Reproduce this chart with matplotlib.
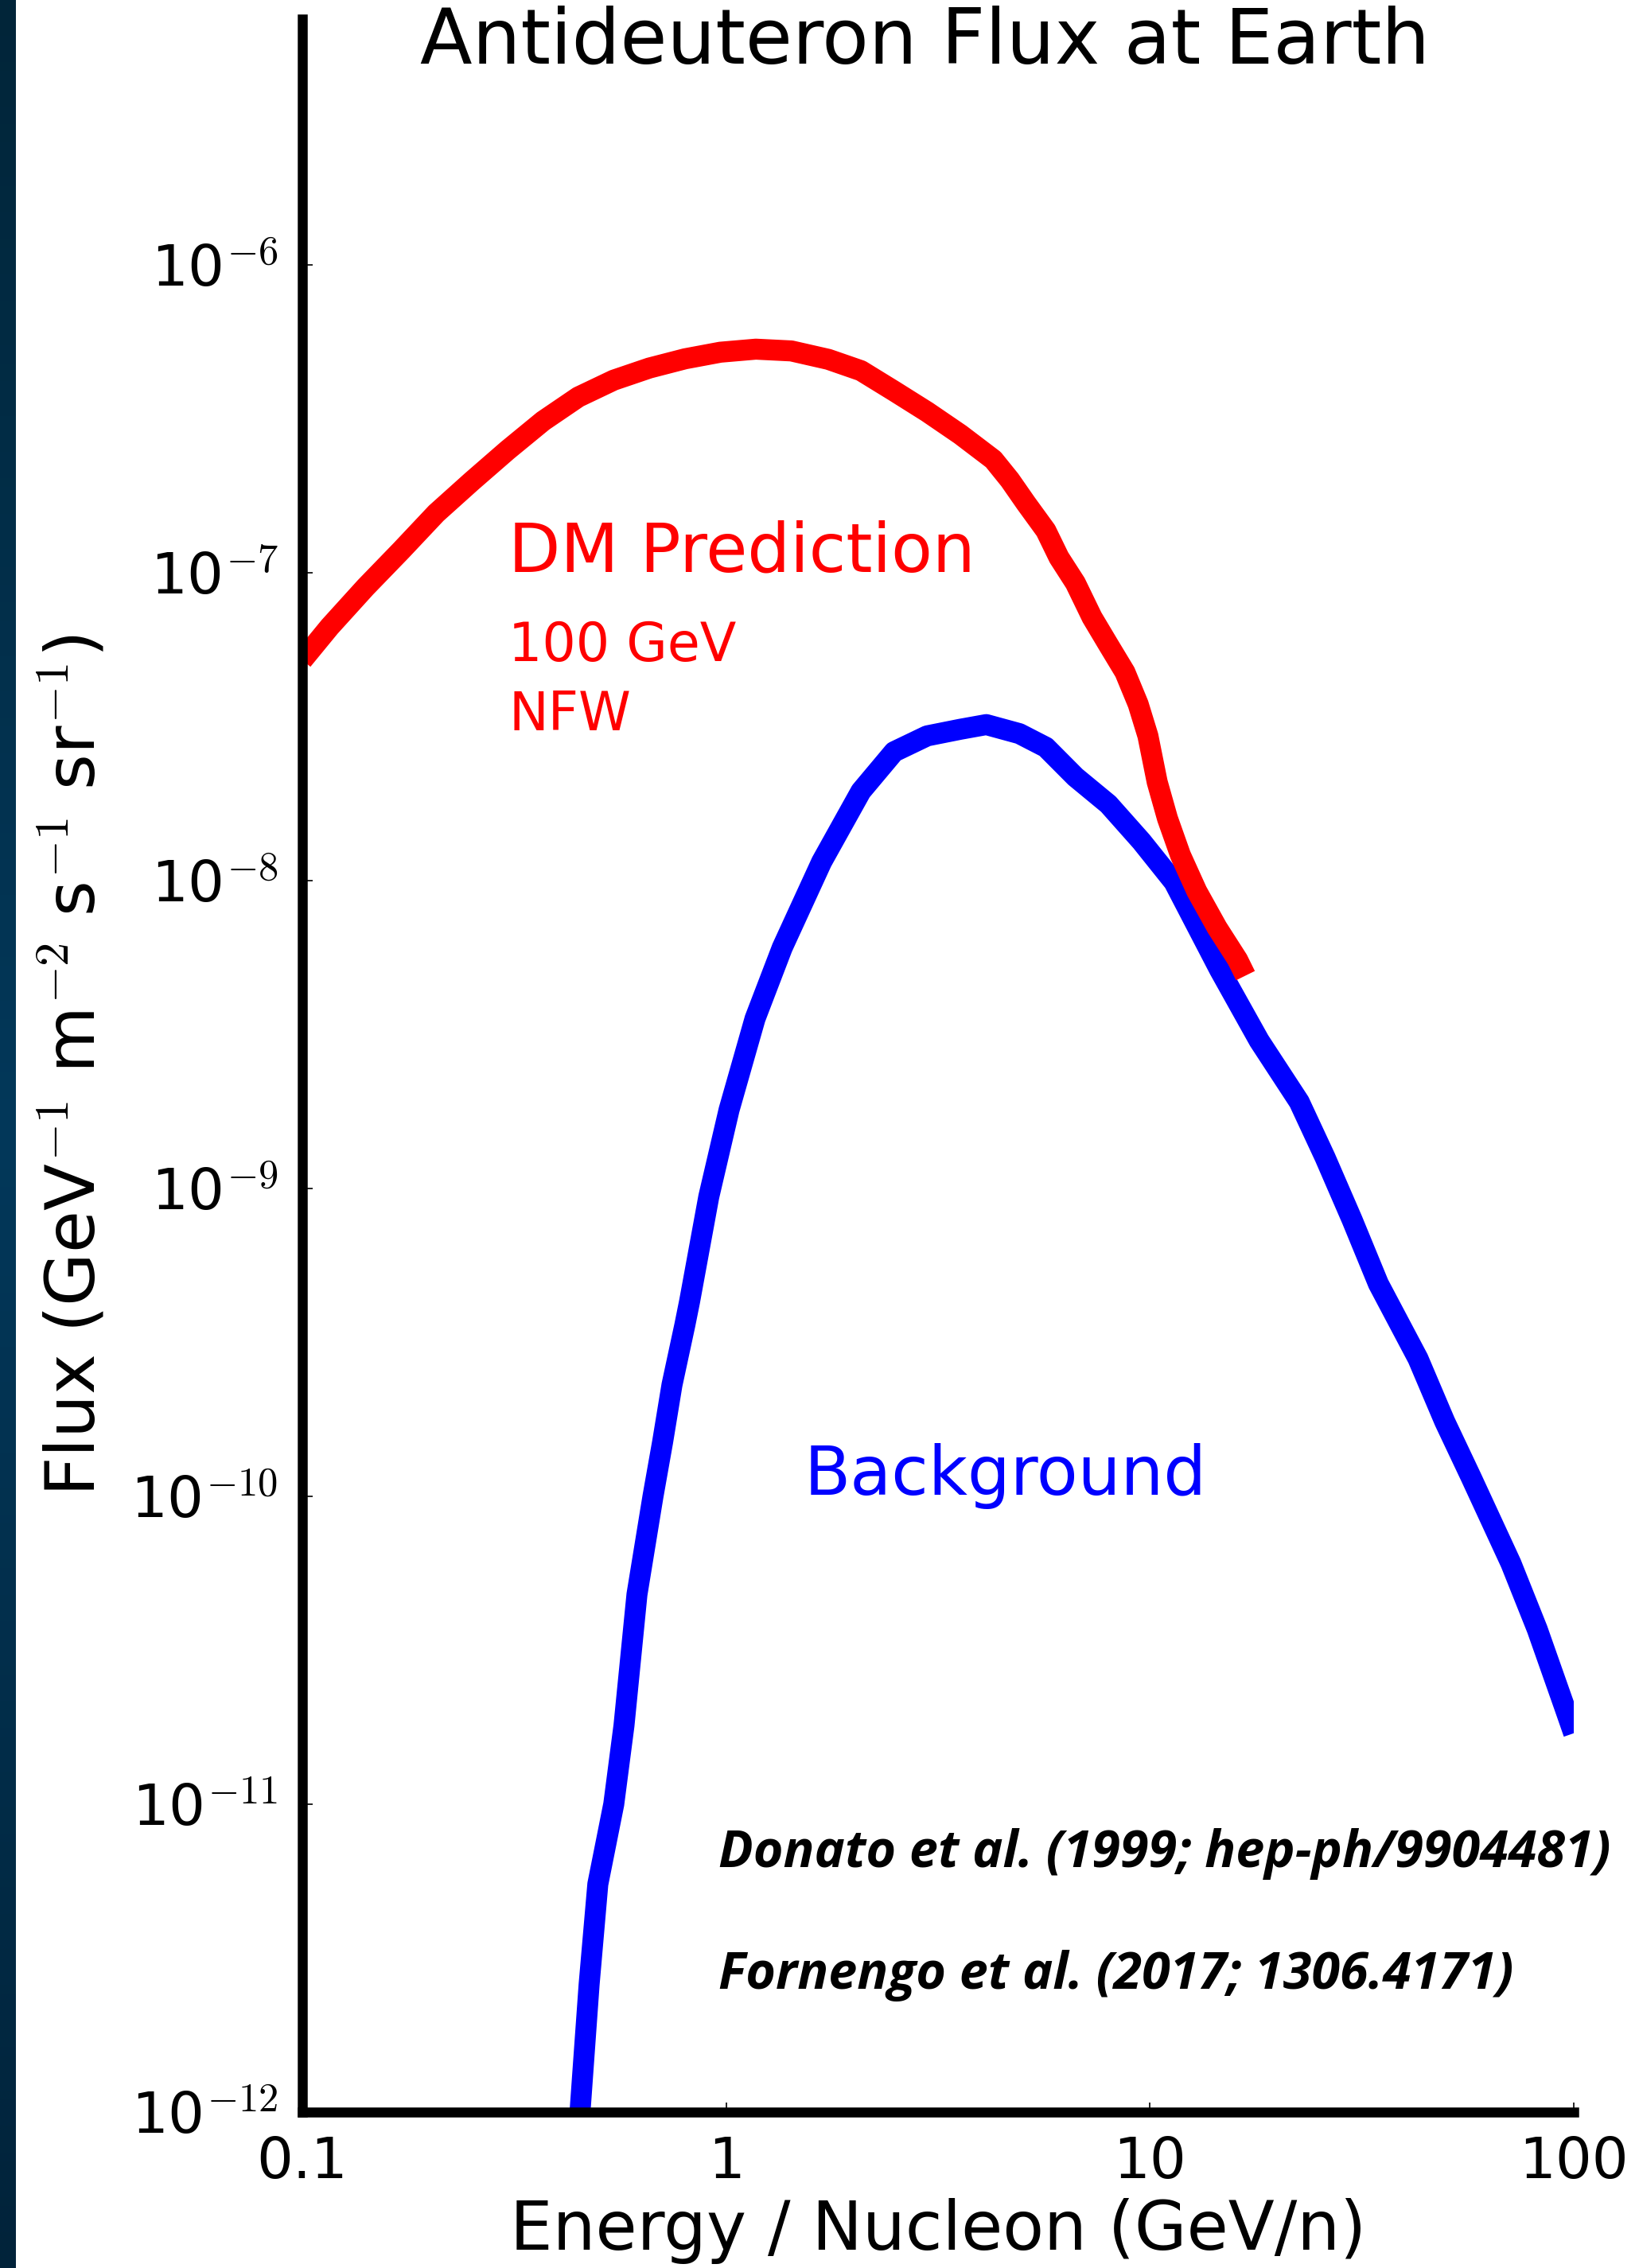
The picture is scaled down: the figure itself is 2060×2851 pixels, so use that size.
import numpy as np
import matplotlib.pyplot as plt
from matplotlib.colors import LinearSegmentedColormap
from matplotlib.ticker import FixedLocator, FuncFormatter, NullLocator

plt.rcParams['font.family'] = ['DejaVu Sans']
plt.rcParams['mathtext.fontset'] = 'cm'

# DM prediction, 100 GeV, NFW  (energy per nucleon in GeV/n, flux)
dm_energy = [0.1, 0.116, 0.141, 0.171, 0.207, 0.251, 0.305, 0.370, 0.448,
             0.543, 0.659, 0.800, 0.969, 1.175, 1.425, 1.742, 2.08, 2.49,
             2.98, 3.57, 4.27, 4.67, 5.10, 5.68, 6.10, 6.67, 7.30, 7.98,
             8.73, 9.38, 9.89, 10.4, 11.0, 11.8, 12.9, 14.4, 16.1, 16.8]
dm_flux = [5.2e-8, 6.67e-8, 8.97e-8, 1.18e-7, 1.56e-7, 1.98e-7, 2.50e-7,
           3.11e-7, 3.72e-7, 4.22e-7, 4.62e-7, 4.95e-7, 5.20e-7, 5.32e-7,
           5.25e-7, 4.93e-7, 4.53e-7, 3.89e-7, 3.33e-7, 2.81e-7, 2.33e-7,
           2.00e-7, 1.68e-7, 1.37e-7, 1.12e-7, 9.25e-8, 7.16e-8, 5.83e-8,
           4.75e-8, 3.74e-8, 2.95e-8, 2.09e-8, 1.59e-8, 1.21e-8, 9.23e-9,
           7.03e-9, 5.53e-9, 4.91e-9]

# secondary background
bg_energy = [0.447, 0.452, 0.475, 0.498, 0.543, 0.574, 0.616, 0.672, 0.708,
             0.745, 0.799, 0.82, 0.91, 1.016, 1.17, 1.356, 1.68, 2.08, 2.49,
             2.98, 3.57, 4.11, 4.92, 5.68, 6.67, 7.98, 9.55, 11.4, 14.6,
             18.1, 22.5, 25.9, 30.0, 34.6, 42.9, 49.6, 57.3, 71.1, 82.0,
             94.9, 100.0]
bg_flux = [7e-13, 1.0e-12, 2.6e-12, 5.5e-12, 1.0e-11, 1.8e-11, 4.8e-11,
           1.0e-10, 1.5e-10, 2.3e-10, 3.6e-10, 4.3e-10, 9.4e-10, 1.80e-9,
           3.56e-9, 6.05e-9, 1.15e-8, 1.95e-8, 2.62e-8, 2.95e-8, 3.10e-8,
           3.21e-8, 3.00e-8, 2.71e-8, 2.17e-8, 1.77e-8, 1.34e-8, 9.88e-9,
           5.13e-9, 3.02e-9, 1.91e-9, 1.26e-9, 7.90e-10, 4.90e-10, 2.80e-10,
           1.75e-10, 1.15e-10, 6.05e-11, 3.70e-11, 2.09e-11, 1.7e-11]

x_ticks = [0.1, 1, 10, 100]
x_tick_labels = ['0.1', '1', '10', '100']
y_ticks = [1e-12, 1e-11, 1e-10, 1e-9, 1e-8, 1e-7, 1e-6]

W, H = 2060, 2851
fig = plt.figure(figsize=(W / 100, H / 100), dpi=100)

# dark slide edge on the left
strip = fig.add_axes([0, 0, 20 / W, 1])
cmap = LinearSegmentedColormap.from_list(
    'edge', ['#012539', '#03385a', '#01233a'])
strip.imshow(np.linspace(0, 1, 256)[:, None], aspect='auto', cmap=cmap)
strip.axis('off')

ax = fig.add_axes([380 / W, 1 - 2655 / H, 1598 / W, 2631 / H])
ax.plot(bg_energy, bg_flux, color='#0000ff', lw=19, solid_capstyle='butt')
ax.plot(dm_energy, dm_flux, color='#ff0000', lw=19, solid_capstyle='butt')
ax.set_xscale('log')
ax.set_yscale('log')
ax.set_xlim(0.1, 100)
ax.set_ylim(1e-12, 6.28e-6)

for side in ['top', 'right']:
    ax.spines[side].set_visible(False)
for side in ['left', 'bottom']:
    ax.spines[side].set_linewidth(9)

ax.xaxis.set_major_locator(FixedLocator(x_ticks))
ax.xaxis.set_major_formatter(FuncFormatter(
    lambda v, pos: x_tick_labels[x_ticks.index(v)] if v in x_ticks else ''))
ax.yaxis.set_major_locator(FixedLocator(y_ticks))
ax.yaxis.set_major_formatter(FuncFormatter(
    lambda v, pos: r'$\mathregular{10}^{%d}$' % round(np.log10(v))))
ax.xaxis.set_minor_locator(NullLocator())
ax.yaxis.set_minor_locator(NullLocator())
ax.tick_params(which='major', direction='in', length=9, width=1.2,
               labelsize=52)
ax.tick_params(axis='x', pad=21)
ax.tick_params(axis='y', pad=22)

ax.set_xlabel('Energy / Nucleon (GeV/n)', fontsize=61)
ax.xaxis.set_label_coords(0.5, -0.041)
ax.set_ylabel(r'Flux (GeV$^{-1}$ m$^{-2}$ s$^{-1}$ sr$^{-1}$)', fontsize=62)
ax.yaxis.set_label_coords(-0.152, 0.5)

ax.text(0.1621, 0.7362, 'DM Prediction', color='#ff0000', fontsize=61,
        transform=ax.transAxes, va='baseline')
ax.text(0.1621, 0.6933, '100 GeV', color='#ff0000', fontsize=48,
        transform=ax.transAxes, va='baseline')
ax.text(0.1621, 0.6602, 'NFW', color='#ff0000', fontsize=48,
        transform=ax.transAxes, va='baseline')
ax.text(0.3949, 0.2949, 'Background', color='#0000ff', fontsize=61,
        transform=ax.transAxes, va='baseline')

fig.text(1162 / W, 1 - 80 / H, 'Antideuteron Flux at Earth', fontsize=69,
         ha='center', va='baseline')
fig.text(903 / W, 1 - 2347 / H, 'Donato et al. (1999; hep-ph/9904481)',
         fontsize=46.5, family='Open Sans', style='italic', weight='bold',
         va='baseline')
fig.text(903 / W, 1 - 2500 / H, 'Fornengo et al. (2017; 1306.4171)',
         fontsize=46.5, family='Open Sans', style='italic', weight='bold',
         va='baseline')

fig.savefig('out.png', dpi=100)
